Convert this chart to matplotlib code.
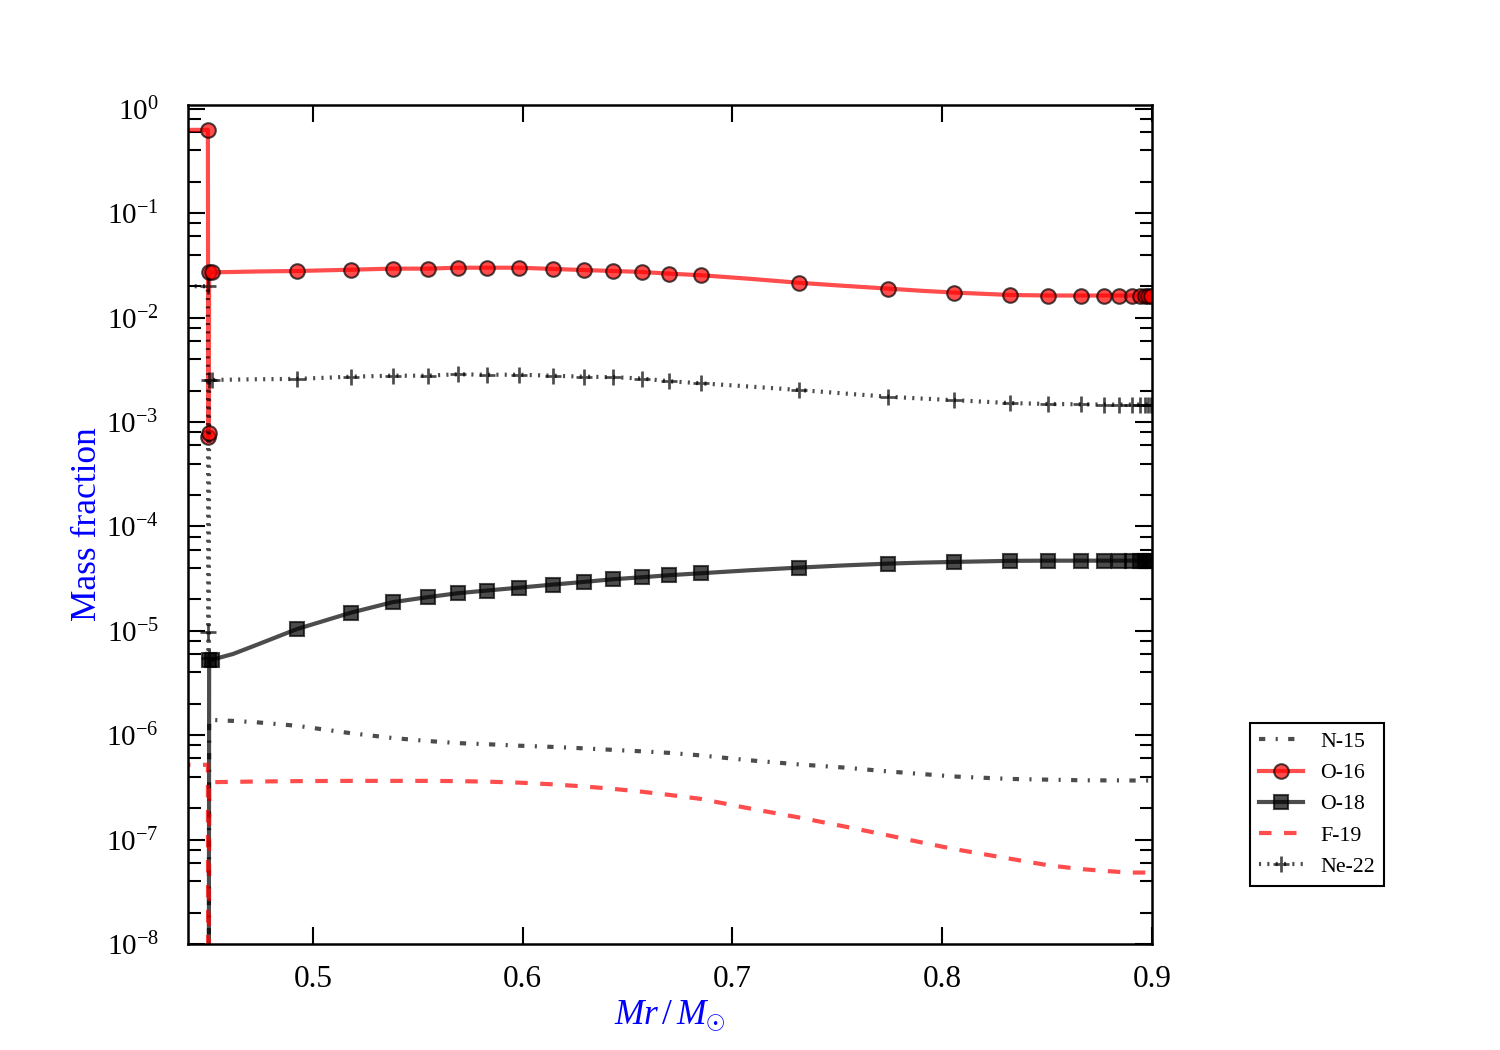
import matplotlib
matplotlib.use('Agg')
import matplotlib.pyplot as plt
from matplotlib.ticker import LogLocator, NullLocator

plt.rcParams['font.family'] = 'serif'
plt.rcParams['font.serif'] = ['Liberation Serif', 'DejaVu Serif']
plt.rcParams['mathtext.fontset'] = 'custom'
plt.rcParams['mathtext.rm'] = 'Liberation Serif'
plt.rcParams['mathtext.it'] = 'Liberation Serif:italic'
plt.rcParams['lines.scale_dashes'] = False  # old style dash patterns in points

# mass coordinate (Msun); core < 0.45, thin transition layer, then envelope
mass = [0.40, 0.4500, 0.4502, 0.4504, 0.4506, 0.4522, 0.462, 0.473,
        0.4925, 0.5181, 0.5380, 0.5547, 0.5690, 0.5828, 0.5984, 0.6143,
        0.6292, 0.6432, 0.6570, 0.6699, 0.6850, 0.7080, 0.7316, 0.7530,
        0.7740, 0.7900, 0.8058, 0.8322, 0.8506, 0.8660, 0.8773, 0.8844,
        0.8906, 0.8943, 0.8967, 0.8983, 0.8994]

n15 = [1e-10, 1e-10, 1e-10, 1e-10, 1.41e-6, 1.40e-6, 1.37e-6, 1.33e-6,
       1.23e-6, 1.045e-6, 9.4e-7, 8.8e-7, 8.4e-7, 8.2e-7, 7.93e-7, 7.72e-7,
       7.48e-7, 7.23e-7, 7.0e-7, 6.77e-7, 6.4e-7, 5.75e-7, 5.25e-7, 4.9e-7,
       4.5e-7, 4.25e-7, 4.02e-7, 3.81e-7, 3.75e-7, 3.70e-7, 3.69e-7, 3.69e-7,
       3.68e-7, 3.68e-7, 3.68e-7, 3.68e-7, 3.68e-7]

o16 = [0.63, 0.63, 7.2e-4, 7.9e-4, 0.0271, 0.0272, 0.0274, 0.0277,
       0.0280, 0.0288, 0.0295, 0.0295, 0.0301, 0.0301, 0.0301, 0.0293,
       0.0286, 0.0280, 0.0274, 0.0264, 0.0255, 0.0236, 0.0216, 0.0202,
       0.0190, 0.0181, 0.0174, 0.0165, 0.0163, 0.0163, 0.0163, 0.0163,
       0.0163, 0.0163, 0.0163, 0.0163, 0.0163]

o18 = [1e-10, 1e-10, 1e-10, 1e-10, 5.2e-6, 5.3e-6, 6.0e-6, 7.3e-6,
       1.04e-5, 1.49e-5, 1.88e-5, 2.10e-5, 2.29e-5, 2.43e-5, 2.59e-5, 2.77e-5,
       2.94e-5, 3.12e-5, 3.26e-5, 3.41e-5, 3.56e-5, 3.80e-5, 4.03e-5, 4.23e-5,
       4.40e-5, 4.50e-5, 4.57e-5, 4.68e-5, 4.70e-5, 4.70e-5, 4.70e-5, 4.70e-5,
       4.70e-5, 4.70e-5, 4.70e-5, 4.70e-5, 4.70e-5]

f19 = [5.2e-7, 5.2e-7, 1e-10, 1e-10, 3.55e-7, 3.55e-7, 3.57e-7, 3.60e-7,
       3.63e-7, 3.65e-7, 3.65e-7, 3.65e-7, 3.63e-7, 3.59e-7, 3.51e-7, 3.38e-7,
       3.23e-7, 3.06e-7, 2.87e-7, 2.68e-7, 2.45e-7, 1.99e-7, 1.63e-7, 1.34e-7,
       1.10e-7, 9.4e-8, 8.1e-8, 6.56e-8, 5.67e-8, 5.22e-8, 5.01e-8, 4.9e-8,
       4.83e-8, 4.83e-8, 4.83e-8, 4.83e-8, 4.83e-8]

ne22 = [0.020, 0.020, 9.8e-6, 5.5e-6, 2.52e-3, 2.53e-3, 2.55e-3, 2.57e-3,
        2.59e-3, 2.72e-3, 2.78e-3, 2.78e-3, 2.87e-3, 2.84e-3, 2.84e-3, 2.78e-3,
        2.72e-3, 2.69e-3, 2.61e-3, 2.46e-3, 2.35e-3, 2.19e-3, 2.03e-3, 1.88e-3,
        1.75e-3, 1.68e-3, 1.62e-3, 1.52e-3, 1.49e-3, 1.48e-3, 1.47e-3, 1.47e-3,
        1.47e-3, 1.47e-3, 1.47e-3, 1.47e-3, 1.47e-3]

# zones that carry a marker
mark_idx = [1, 2, 3, 4, 5] + list(range(8, 21)) + [22, 24] + list(range(26, 37))

x_ticks = [0.5, 0.6, 0.7, 0.8, 0.9]
y_ticks = [1e-8, 1e-7, 1e-6, 1e-5, 1e-4, 1e-3, 1e-2, 1e-1, 1e0]

fig = plt.figure(figsize=(10, 7), dpi=150)
ax = fig.add_axes([0.1253, 0.1010, 0.6427, 0.7990])

ax.semilogy(mass, n15, color='k', alpha=0.7, lw=2, ls=(0, (3, 5, 1, 5)), label='N-15')
ax.semilogy(mass, o16, color='r', alpha=0.7, lw=2, marker='o', ms=7, mec='k', mew=1,
            markevery=mark_idx, label='O-16')
ax.semilogy(mass, o18, color='k', alpha=0.7, lw=2, marker='s', ms=7, mec='k', mew=1,
            markevery=mark_idx, label='O-18')
ax.semilogy(mass, f19, color='r', alpha=0.7, lw=2, ls=(0, (6, 6)), label='F-19')
ax.semilogy(mass, ne22, color='k', alpha=0.7, lw=2, ls=(0, (1, 3)), marker='+', ms=8, mew=1.3,
            markevery=mark_idx, label='Ne-22')

ax.set_xlim(0.4405, 0.9)
ax.set_ylim(1e-8, 1.09)
ax.set_xticks(x_ticks)
ax.set_xticklabels(['%.1f' % v for v in x_ticks])
ax.xaxis.set_minor_locator(NullLocator())
ax.set_yticks(y_ticks)
ax.yaxis.set_minor_locator(LogLocator(base=10, subs=(2, 4, 6, 8), numticks=20))

ax.tick_params(which='both', direction='in', top=True, right=True, width=1)
ax.tick_params(which='major', length=8)
ax.tick_params(which='minor', length=6)
ax.tick_params(axis='x', labelsize=15, pad=10)
ax.tick_params(axis='y', labelsize=14, pad=14)
for sp in ax.spines.values():
    sp.set_linewidth(1.2)

ax.set_xlabel(r'$Mr\,/\,M_{\odot}$', color='b', fontsize=17, labelpad=2)
ax.set_ylabel('Mass fraction', color='b', fontsize=17, labelpad=1)

leg = ax.legend(loc='upper left', bbox_to_anchor=(1.102, 0.2635), borderaxespad=0,
                fontsize=10.5, fancybox=False, edgecolor='k', framealpha=1,
                numpoints=1, handlelength=2.0)
leg.get_frame().set_linewidth(1.0)

fig.savefig('out.png', dpi=150)
